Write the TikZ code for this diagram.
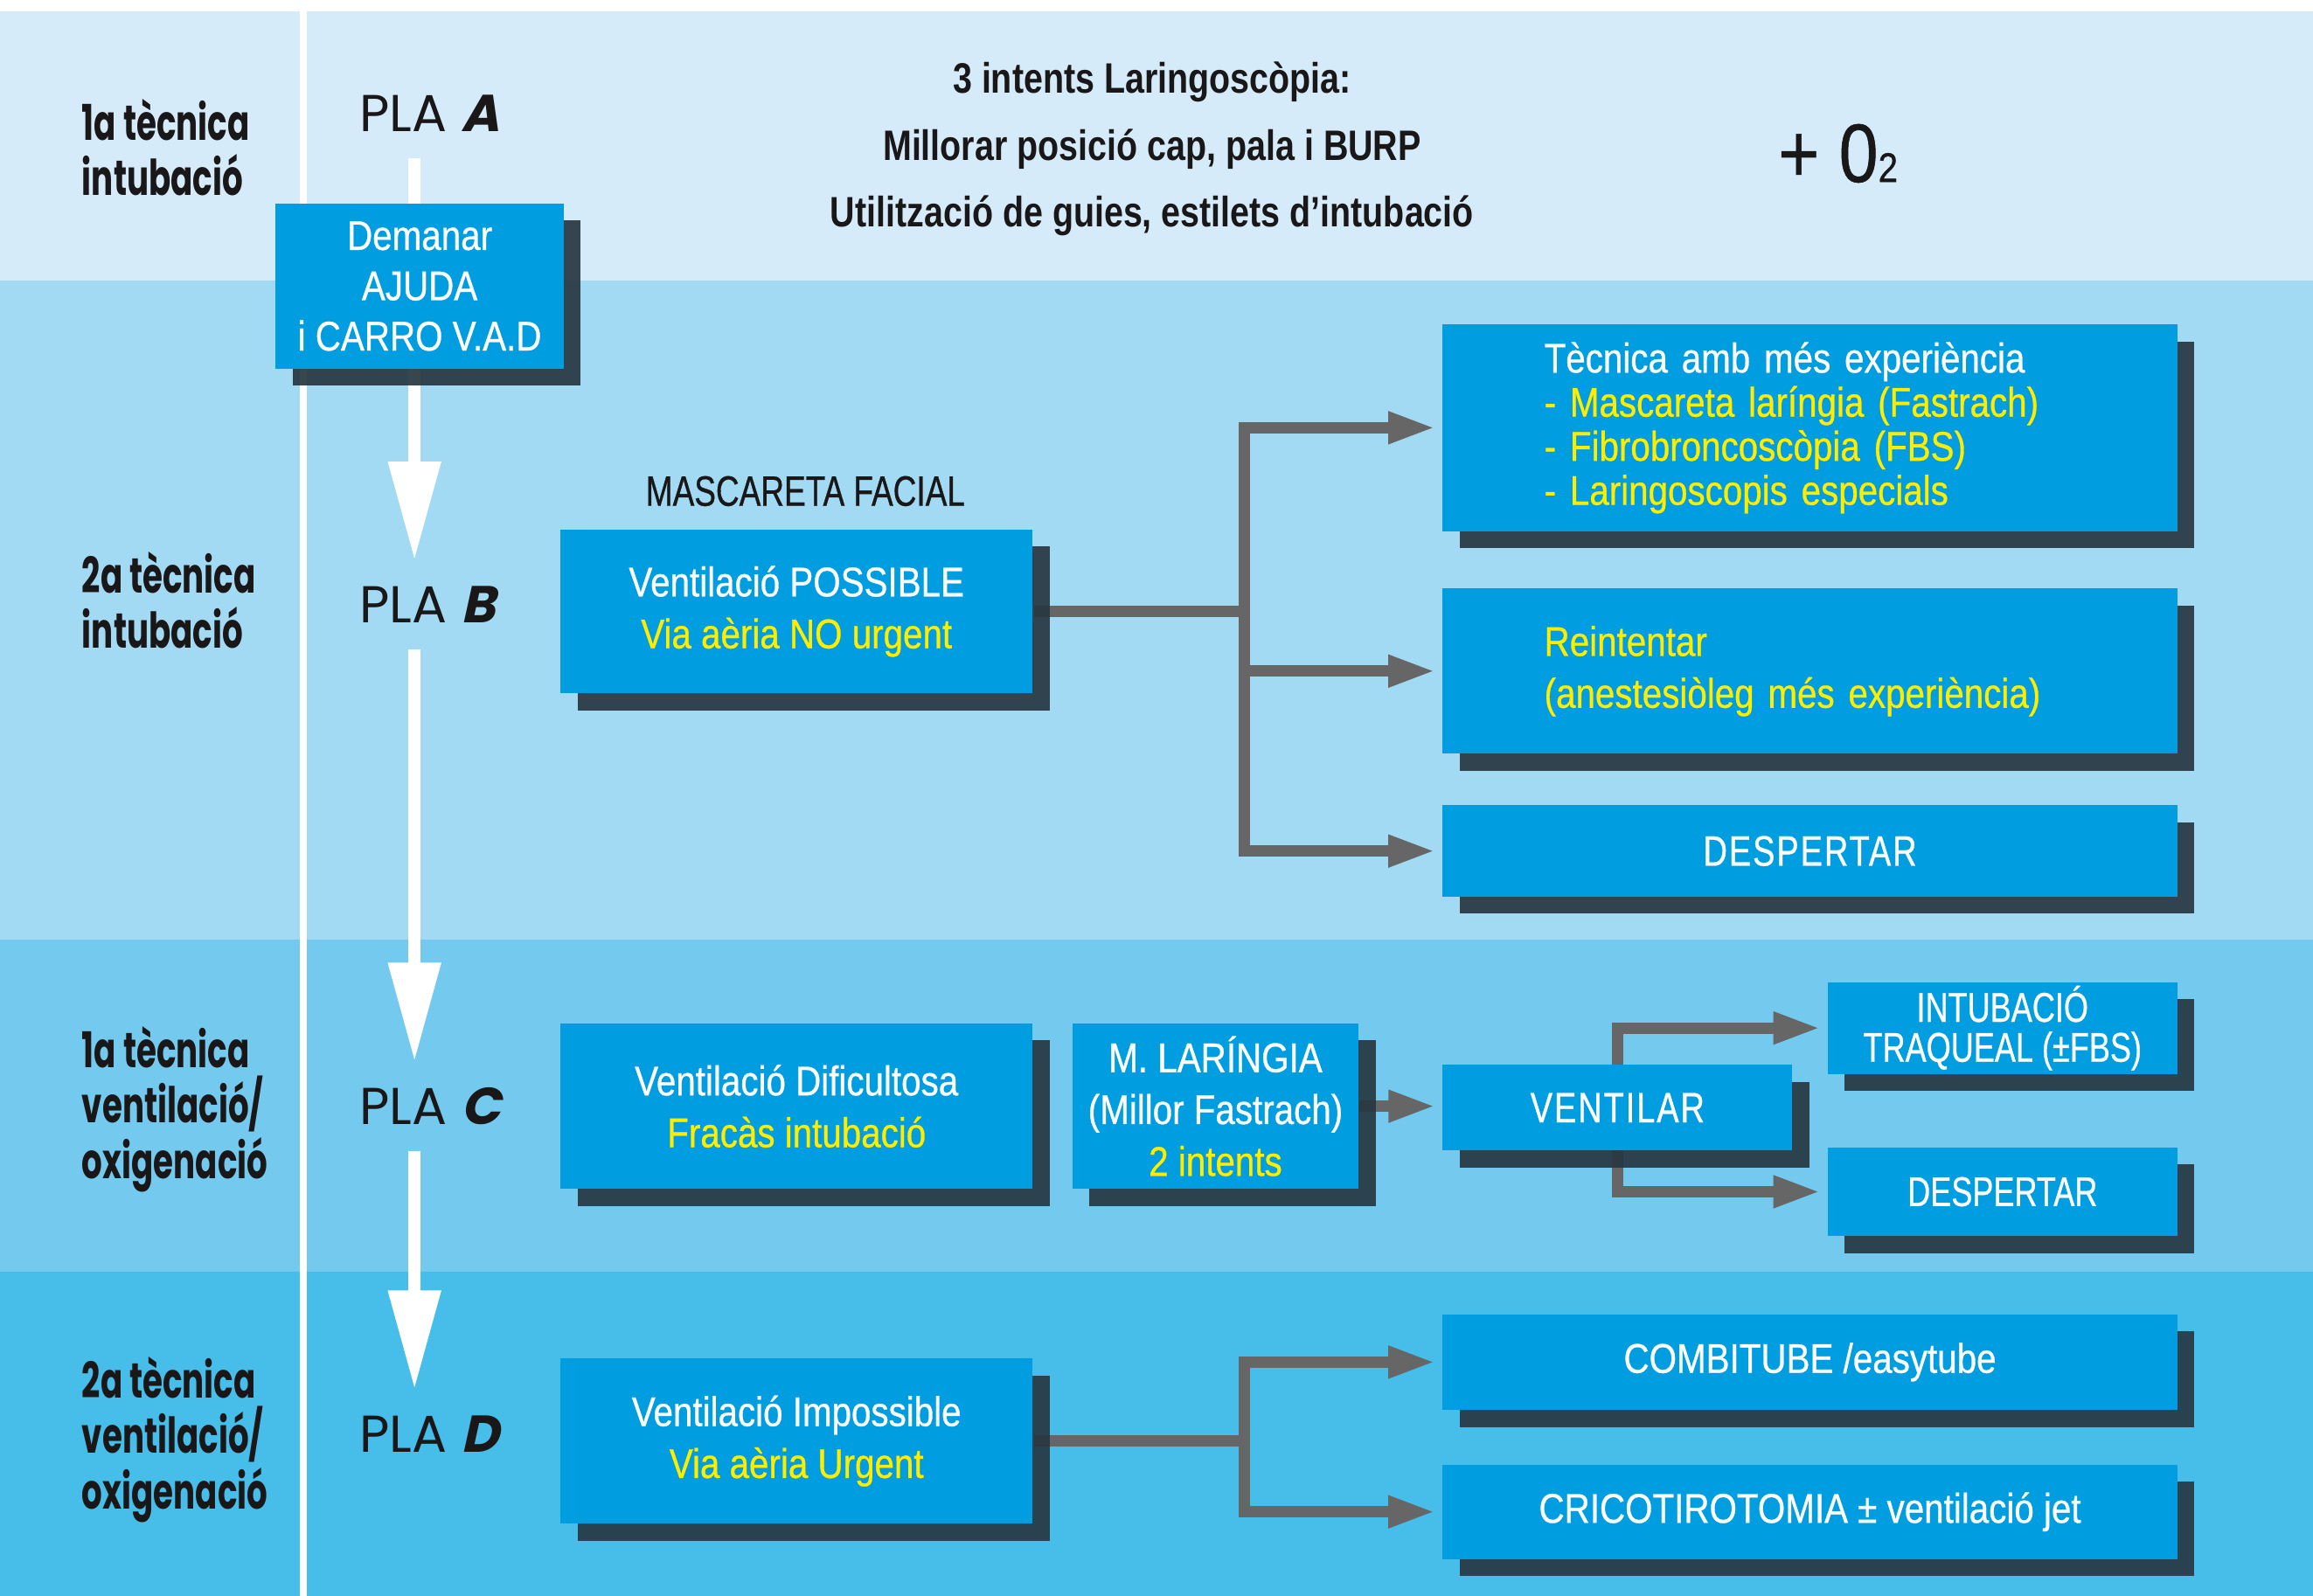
\documentclass[tikz,border=0pt]{standalone}
\usepackage{fontspec}
\usetikzlibrary{arrows.meta,shadows}

\newfontfamily\boxfont{Liberation Sans}[FakeStretch=0.85, FakeBold=0.6]
\newfontfamily\slimfont{Liberation Sans}[FakeStretch=0.76, FakeBold=0.6]
\newfontfamily\widefont{Liberation Sans}[FakeStretch=0.78, FakeBold=0.6, LetterSpace=4]
\newfontfamily\headfont{Liberation Sans}[FakeStretch=0.81]
\newfontfamily\lanefont{Poppins}[FakeStretch=0.66]
\newfontfamily\plafont{Poppins}
\newfontfamily\plaletter{Poppins}[FakeSlant=0.22]

\definecolor{bandA}{RGB}{213,235,249}
\definecolor{bandB}{RGB}{162,217,243}
\definecolor{bandC}{RGB}{116,202,238}
\definecolor{bandD}{RGB}{70,190,233}
\definecolor{boxblue}{RGB}{0,158,224}
\definecolor{shade}{RGB}{40,55,66}
\definecolor{linkgray}{RGB}{102,102,102}
\definecolor{signyellow}{RGB}{255,237,0}
\definecolor{ink}{RGB}{26,23,24}

\pgfdeclarelayer{back}
\pgfdeclarelayer{links}
\pgfsetlayers{back,links,main}

\tikzset{
  actbox/.style={fill=boxblue, text=white, inner sep=0pt, align=center,
    font=\boxfont\fontsize{8}{10}\selectfont,
    drop shadow={shadow xshift=0.115cm, shadow yshift=-0.115cm, fill=shade, opacity=0.92}},
  lane/.style={anchor=west, align=left, inner sep=0pt, text=ink,
    font=\lanefont\bfseries\fontsize{9.5}{10.7}\selectfont},
  plan/.style={anchor=west, inner xsep=0pt, inner ysep=0.17cm, text=ink,
    font=\plafont\fontsize{10}{12}\selectfont},
  link/.style={draw=linkgray, line width=0.077cm},
  headed/.style={-{Triangle[length=0.32cm,width=0.2cm]}, shorten >=0.04cm},
  planarrow/.style={draw=white, line width=0.08cm, -{Triangle[length=0.67cm,width=0.34cm]}},
}

\begin{document}
\begin{tikzpicture}[x=0.01cm, y=-0.01cm]
  \useasboundingbox (0,0) rectangle (1568,1082);
  \begin{pgfonlayer}{back}
    \fill[white] (0,0) rectangle (1568,1082);
    \fill[bandA] (0,8) rectangle (1568,190);
    \fill[bandB] (0,190) rectangle (1568,637);
    \fill[bandC] (0,637) rectangle (1568,862);
    \fill[bandD] (0,862) rectangle (1568,1082);
    \fill[white] (203,0) rectangle (208,1082);
  \end{pgfonlayer}

  % tecniques
  \node[lane] (laneA) at (55,100) {1a tècnica\\intubació};
  \node[lane] (laneB) at (55,407) {2a tècnica\\intubació};
  \node[lane] (laneC) at (55,752) {1a tècnica\\ventilació/\\oxigenació};
  \node[lane] (laneD) at (55,976) {2a tècnica\\ventilació/\\oxigenació};

  % plans
  \node[plan] (plaA) at (243,77) {PLA {\plaletter\bfseries A}};
  \node[plan] (plaB) at (243,410) {PLA {\plaletter\bfseries B}};
  \node[plan] (plaC) at (243,750) {PLA {\plaletter\bfseries C}};
  \node[plan] (plaD) at (243,972) {PLA {\plaletter\bfseries D}};

  % pla A
  \node[font=\headfont\bfseries\fontsize{8.2}{12.9}\selectfont, text=ink, align=center] (intents) at (781,101)
    {3 intents Laringoscòpia:\\Millorar posició cap, pala i BURP\\Utilització de guies, estilets d’intubació};
  \node[font=\boxfont\fontsize{16}{16}\selectfont, text=ink] (oxigen) at (1246,104) {+ 0{\fontsize{8}{8}\selectfont 2}};
  \node[actbox, minimum width=1.95cm, minimum height=1.12cm, font=\boxfont\fontsize{8}{9.7}\selectfont] (ajuda) at (284.5,194)
    {Demanar\\AJUDA\\i CARRO V.A.D};

  % pla B
  \node[font=\slimfont\fontsize{8.2}{10}\selectfont, text=ink] (facial) at (546,333) {MASCARETA FACIAL};
  \node[actbox, minimum width=3.2cm, minimum height=1.11cm] (possible) at (540,414.5)
    {Ventilació POSSIBLE\\\textcolor{signyellow}{Via aèria NO urgent}};
  \node[actbox, align=left, text width=3.6cm, inner xsep=0.69cm, minimum height=1.4cm, font=\boxfont\fontsize{8}{8.5}\selectfont] (expert) at (1227,290)
    {Tècnica amb més experiència\\\textcolor{signyellow}{- Mascareta laríngia (Fastrach)}\\\textcolor{signyellow}{- Fibrobroncoscòpia (FBS)}\\\textcolor{signyellow}{- Laringoscopis especials}};
  \node[actbox, align=left, text width=3.6cm, inner xsep=0.69cm, minimum height=1.12cm, text=signyellow] (retry) at (1227,455)
    {Reintentar\\(anestesiòleg més experiència)};
  \node[actbox, minimum width=4.98cm, minimum height=0.62cm, font=\widefont\fontsize{8.2}{10}\selectfont] (wakeB) at (1227,577) {DESPERTAR};

  % pla C
  \node[actbox, minimum width=3.2cm, minimum height=1.12cm] (hard) at (540,750)
    {Ventilació Dificultosa\\\textcolor{signyellow}{Fracàs intubació}};
  \node[actbox, minimum width=1.94cm, minimum height=1.12cm] (lma) at (824,750)
    {M. LARÍNGIA\\(Millor Fastrach)\\\textcolor{signyellow}{2 intents}};
  \node[actbox, minimum width=2.37cm, minimum height=0.58cm, font=\widefont\fontsize{8.2}{10}\selectfont] (ventilar) at (1096.5,751) {VENTILAR};
  \node[actbox, minimum width=2.37cm, minimum height=0.62cm, font=\slimfont\fontsize{8}{7.7}\selectfont] (intub) at (1357.5,697)
    {INTUBACIÓ\\TRAQUEAL (±FBS)};
  \node[actbox, minimum width=2.37cm, minimum height=0.6cm, font=\slimfont\fontsize{8}{10}\selectfont] (wakeC) at (1357.5,808) {DESPERTAR};

  % pla D
  \node[actbox, minimum width=3.2cm, minimum height=1.12cm] (imposs) at (540,977)
    {Ventilació Impossible\\\textcolor{signyellow}{Via aèria Urgent}};
  \node[actbox, minimum width=4.98cm, minimum height=0.65cm] (combi) at (1227,923.5) {COMBITUBE /easytube};
  \node[actbox, minimum width=4.98cm, minimum height=0.64cm] (crico) at (1227,1025) {CRICOTIROTOMIA ± ventilació jet};

  \begin{pgfonlayer}{links}
    \coordinate (spine) at (281,0);
    \draw[planarrow] (plaA.south -| spine) -- (plaB.north -| spine);
    \draw[planarrow] (plaB.south -| spine) -- (plaC.north -| spine);
    \draw[planarrow] (plaC.south -| spine) -- (plaD.north -| spine);
    \draw[link] (possible.east) -- ++(143,0) coordinate (forkB);
    \draw[link, headed] (forkB) |- (expert.west);
    \draw[link, headed] (forkB) |- (retry.west);
    \draw[link, headed] (forkB) |- (wakeB.west);
    \draw[link, headed] (lma.east) -- (lma.east -| ventilar.west);
    \draw[link, headed] (ventilar.center) |- (intub.west);
    \draw[link, headed] (ventilar.center) |- (wakeC.west);
    \draw[link] (imposs.east) -- ++(143,0) coordinate (forkD);
    \draw[link, headed] (forkD) |- (combi.west);
    \draw[link, headed] (forkD) |- (crico.west);
  \end{pgfonlayer}
\end{tikzpicture}
\end{document}
